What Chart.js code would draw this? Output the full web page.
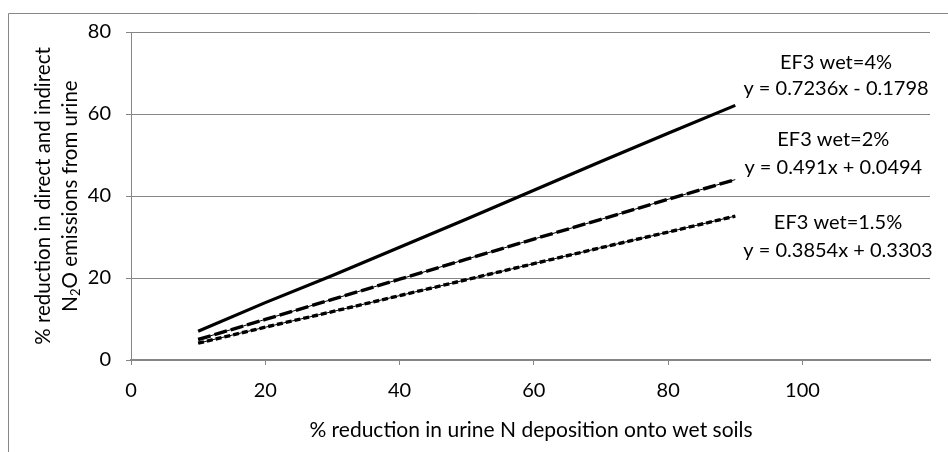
<!DOCTYPE html>
<html>
<head>
<meta charset="utf-8">
<script src="https://cdn.jsdelivr.net/npm/chart.js@4"></script>
<style>
  html, body { margin: 0; padding: 0; background: #fff; }
  #wrap { width: 948px; height: 452px; position: relative; }
</style>
</head>
<body>
<div id="wrap"><canvas id="mainChart" width="948" height="452"></canvas></div>
<script>
const xValues = [10, 20, 30, 40, 50, 60, 70, 80, 90];
const ef4Values = [7.0, 14.0, 20.6, 27.5, 34.4, 41.4, 48.4, 55.3, 62.1];
const ef2Values = [5.0, 9.9, 14.8, 19.7, 24.6, 29.5, 34.3, 39.2, 44.0];
const ef15Values = [4.1, 8.0, 11.8, 15.7, 19.6, 23.5, 27.4, 31.2, 35.1];
const xTicks = [0, 20, 40, 60, 80, 100];
const yTicks = [0, 20, 40, 60, 80];
const trendLabels = [
  { name: "EF3 wet=4%", eq: "y = 0.7236x - 0.1798", x: 105, y1: 72.6, y2: 66.3 },
  { name: "EF3 wet=2%", eq: "y = 0.491x + 0.0494", x: 104.6, y1: 53.8, y2: 46.9 },
  { name: "EF3 wet=1.5%", eq: "y = 0.3854x + 0.3303", x: 105.3, y1: 33.5, y2: 26.8 }
];
const xTitle = "% reduction in urine N deposition onto wet soils";
const yTitleLine1 = "% reduction in direct and indirect";

const FONT = "Lato, 'Open Sans', sans-serif";
const GRID = "#868686";

function toPoints(values) {
  return xValues.map((x, i) => ({ x: x, y: values[i] }));
}

const decorPlugin = {
  id: "decor",
  beforeDraw(chart) {
    const ctx = chart.ctx;
    ctx.save();
    ctx.fillStyle = "#fff";
    ctx.fillRect(0, 0, chart.width, chart.height);
    ctx.strokeStyle = GRID;
    ctx.lineWidth = 1;
    ctx.beginPath();
    ctx.moveTo(8.5, chart.height);
    ctx.lineTo(8.5, 13.5);
    ctx.lineTo(chart.width, 13.5);
    ctx.stroke();
    ctx.restore();
  },
  afterDraw(chart) {
    const ctx = chart.ctx;
    const xs = chart.scales.x, ys = chart.scales.y;
    const area = chart.chartArea;
    ctx.save();
    ctx.fillStyle = "#000";
    ctx.font = `20px ${FONT}`;
    ctx.textAlign = "center";
    ctx.textBaseline = "middle";
    trendLabels.forEach((t) => {
      const px = xs.getPixelForValue(t.x);
      ctx.fillText(t.name, px, ys.getPixelForValue(t.y1));
      ctx.fillText(t.eq, px, ys.getPixelForValue(t.y2));
    });
    // x axis title
    ctx.font = `21px ${FONT}`;
    ctx.fillText(xTitle, 531, 430);
    // y axis title, two rotated lines, second with subscript
    const cy = (area.top + area.bottom) / 2;
    ctx.translate(43, cy);
    ctx.rotate(-Math.PI / 2);
    ctx.font = `20.5px ${FONT}`;
    ctx.fillText(yTitleLine1, 0, 0);
    ctx.translate(0, 27);
    const big = `20.5px ${FONT}`, small = `13px ${FONT}`;
    ctx.font = big;
    const wN = ctx.measureText("N").width;
    const wRest = ctx.measureText("O emissions from urine").width;
    ctx.font = small;
    const w2 = ctx.measureText("2").width;
    const total = wN + w2 + wRest;
    let sx = -total / 2;
    ctx.textAlign = "left";
    ctx.font = big;
    ctx.fillText("N", sx, 0);
    sx += wN;
    ctx.font = small;
    ctx.fillText("2", sx, 6);
    sx += w2;
    ctx.font = big;
    ctx.fillText("O emissions from urine", sx, 0);
    ctx.restore();
  }
};

const ctx = document.getElementById("mainChart").getContext("2d");
new Chart(ctx, {
  type: "scatter",
  data: {
    datasets: [
      { label: "EF3 wet=4%", data: toPoints(ef4Values), showLine: true, borderColor: "#000", borderWidth: 3.2, pointRadius: 0, borderCapStyle: "butt" },
      { label: "EF3 wet=2% trend", data: toPoints(ef2Values), showLine: true, borderColor: "#000", borderWidth: 1, pointRadius: 0 },
      { label: "EF3 wet=2%", data: toPoints(ef2Values), showLine: true, borderColor: "#000", borderWidth: 3.4, borderDash: [13, 4], pointRadius: 0 },
      { label: "EF3 wet=1.5% trend", data: toPoints(ef15Values), showLine: true, borderColor: "#000", borderWidth: 1, pointRadius: 0 },
      { label: "EF3 wet=1.5%", data: toPoints(ef15Values), showLine: true, borderColor: "#000", borderWidth: 3.4, borderDash: [6, 3], pointRadius: 0 }
    ]
  },
  options: {
    responsive: false,
    animation: false,
    devicePixelRatio: 1,
    layout: { padding: { left: 0, top: 32, right: 18, bottom: 0 } },
    plugins: { legend: { display: false }, tooltip: { enabled: false } },
    scales: {
      x: {
        type: "linear",
        min: 0,
        max: 119,
        afterFit(scale) { scale.height = 92; },
        afterBuildTicks(scale) { scale.ticks = xTicks.map((v) => ({ value: v })); },
        ticks: { color: "#000", font: { family: FONT, size: 20 }, padding: 14, maxRotation: 0 },
        grid: { drawOnChartArea: false, drawTicks: true, tickLength: 5, color: GRID },
        border: { color: GRID, width: 2 }
      },
      y: {
        min: 0,
        max: 80,
        afterFit(scale) { scale.width = 131; },
        afterBuildTicks(scale) { scale.ticks = yTicks.map((v) => ({ value: v })); },
        ticks: { color: "#000", font: { family: FONT, size: 20 }, padding: 15 },
        grid: { color: GRID, tickLength: 5, lineWidth: 1 },
        border: { color: GRID, width: 1 }
      }
    }
  },
  plugins: [decorPlugin]
});
</script>
</body>
</html>
